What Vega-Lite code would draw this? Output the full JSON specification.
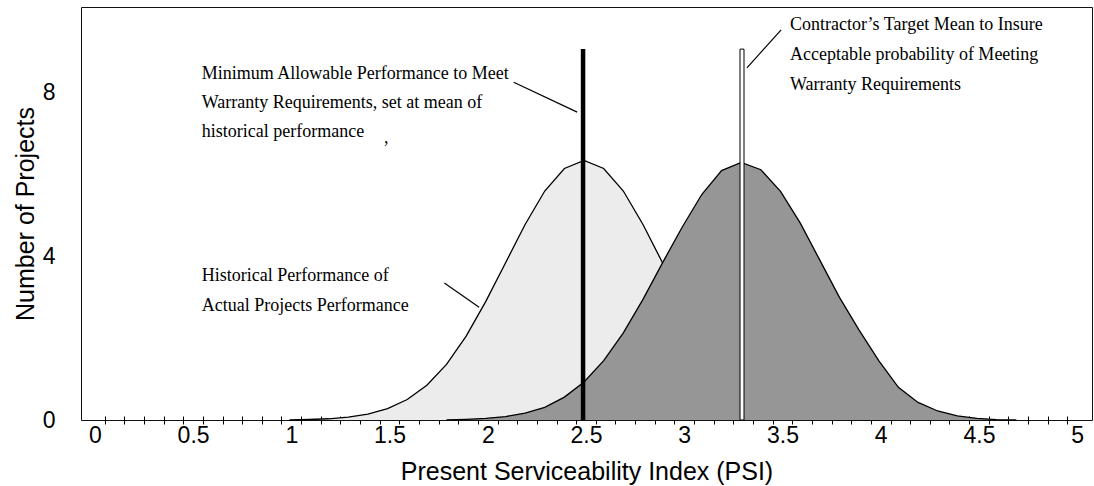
{
  "$schema": "https://vega.github.io/schema/vega-lite/v6.json",
  "autosize": {"type": "none"},
  "padding": {"left": 81, "top": 7, "right": 2, "bottom": 66},
  "width": 1011,
  "height": 413,
  "background": "white",
  "config": {"view": {"stroke": "#111111", "strokeWidth": 1}},
  "datasets": {
    "historical": [
      {"psi": 0.99, "n": 0}, {"psi": 1.09, "n": 0.012}, {"psi": 1.19, "n": 0.03}, {"psi": 1.29, "n": 0.07},
      {"psi": 1.39, "n": 0.145}, {"psi": 1.49, "n": 0.28}, {"psi": 1.59, "n": 0.5}, {"psi": 1.69, "n": 0.85},
      {"psi": 1.79, "n": 1.36}, {"psi": 1.89, "n": 2.05}, {"psi": 1.99, "n": 2.9}, {"psi": 2.09, "n": 3.84},
      {"psi": 2.19, "n": 4.78}, {"psi": 2.29, "n": 5.6}, {"psi": 2.39, "n": 6.15}, {"psi": 2.49, "n": 6.35},
      {"psi": 2.59, "n": 6.15}, {"psi": 2.69, "n": 5.6}, {"psi": 2.79, "n": 4.78}, {"psi": 2.89, "n": 3.84},
      {"psi": 2.99, "n": 2.9}, {"psi": 3.09, "n": 2.05}, {"psi": 3.19, "n": 1.36}, {"psi": 3.29, "n": 0.85},
      {"psi": 3.39, "n": 0.5}, {"psi": 3.49, "n": 0.28}, {"psi": 3.59, "n": 0.145}, {"psi": 3.69, "n": 0.07},
      {"psi": 3.79, "n": 0.03}, {"psi": 3.89, "n": 0.012}, {"psi": 3.99, "n": 0}
    ],
    "target": [
      {"psi": 1.79, "n": 0}, {"psi": 1.89, "n": 0.015}, {"psi": 1.99, "n": 0.04}, {"psi": 2.09, "n": 0.085},
      {"psi": 2.19, "n": 0.17}, {"psi": 2.29, "n": 0.31}, {"psi": 2.39, "n": 0.56}, {"psi": 2.49, "n": 0.93},
      {"psi": 2.59, "n": 1.45}, {"psi": 2.69, "n": 2.13}, {"psi": 2.79, "n": 2.95}, {"psi": 2.89, "n": 3.85},
      {"psi": 2.99, "n": 4.72}, {"psi": 3.09, "n": 5.52}, {"psi": 3.19, "n": 6.1}, {"psi": 3.29, "n": 6.3},
      {"psi": 3.39, "n": 6.12}, {"psi": 3.49, "n": 5.59}, {"psi": 3.59, "n": 4.82}, {"psi": 3.69, "n": 3.91},
      {"psi": 3.79, "n": 3.0}, {"psi": 3.89, "n": 2.2}, {"psi": 3.99, "n": 1.45}, {"psi": 4.09, "n": 0.8},
      {"psi": 4.19, "n": 0.43}, {"psi": 4.29, "n": 0.22}, {"psi": 4.39, "n": 0.1}, {"psi": 4.49, "n": 0.04},
      {"psi": 4.59, "n": 0.01}, {"psi": 4.69, "n": 0}
    ],
    "minbar": [{"psi": 2.485, "n": 0, "n2": 9.07}],
    "targetbar": [{"psi": 3.294, "n": 0, "n2": 9.07}],
    "pointers": [
      {"psi": 2.132, "n": 8.26, "psi2": 2.455, "n2": 7.53},
      {"psi": 1.779, "n": 3.35, "psi2": 1.956, "n2": 2.76},
      {"psi": 3.493, "n": 9.54, "psi2": 3.319, "n2": 8.61}
    ],
    "notes": [
      {"psi": 0.544, "n": 8.34, "label": "Minimum Allowable Performance to Meet"},
      {"psi": 0.544, "n": 7.63, "label": "Warranty Requirements, set at mean of"},
      {"psi": 0.544, "n": 6.92, "label": "historical performance"},
      {"psi": 0.544, "n": 3.4, "label": "Historical Performance of"},
      {"psi": 0.544, "n": 2.67, "label": "Actual Projects Performance"},
      {"psi": 3.538, "n": 9.54, "label": "Contractor’s Target Mean to Insure"},
      {"psi": 3.538, "n": 8.8, "label": "Acceptable probability of Meeting"},
      {"psi": 3.538, "n": 8.07, "label": "Warranty Requirements"},
      {"psi": 1.472, "n": 6.77, "label": ","}
    ]
  },
  "encoding": {
    "x": {
      "field": "psi",
      "type": "quantitative",
      "scale": {"domain": [-0.045, 5.05], "nice": false, "zero": false},
      "axis": {
        "title": "Present Serviceability Index (PSI)",
        "titleFont": "Liberation Sans",
        "titleFontSize": 25,
        "titleFontWeight": "normal",
        "titleColor": "black",
        "titlePadding": 12,
        "values": [0, 0.5, 1, 1.5, 2, 2.5, 3, 3.5, 4, 4.5, 5,
          0.05, 0.15, 0.25, 0.35, 0.45, 0.55, 0.65, 0.75, 0.85, 0.95,
          1.05, 1.15, 1.25, 1.35, 1.45, 1.55, 1.65, 1.75, 1.85, 1.95,
          2.05, 2.15, 2.25, 2.35, 2.45, 2.55, 2.65, 2.75, 2.85, 2.95,
          3.05, 3.15, 3.25, 3.35, 3.45, 3.55, 3.65, 3.75, 3.85, 3.95,
          4.05, 4.15, 4.25, 4.35, 4.45, 4.55, 4.65, 4.75, 4.85, 4.95],
        "format": "~g",
        "labelExpr": "abs(datum.value*2 - round(datum.value*2)) < 0.001 ? datum.label : ''",
        "labelFont": "Liberation Sans",
        "labelFontSize": 23,
        "labelColor": "black",
        "labelPadding": 0,
        "labelOverlap": false,
        "labelFlush": false,
        "domain": false,
        "grid": false,
        "ticks": true,
        "tickSize": 8,
        "tickWidth": 1,
        "tickColor": "black",
        "tickOpacity": {"condition": {"test": "abs(datum.value*2 - round(datum.value*2)) < 0.001", "value": 0}, "value": 1},
        "offset": -4
      }
    },
    "y": {
      "field": "n",
      "type": "quantitative",
      "stack": null,
      "scale": {"domain": [0, 10.1], "nice": false, "zero": true},
      "axis": {
        "title": "Number of Projects",
        "titleFont": "Liberation Sans",
        "titleFontSize": 25,
        "titleFontWeight": "normal",
        "titleColor": "black",
        "titlePadding": 4,
        "values": [0, 4, 8],
        "labelFont": "Liberation Sans",
        "labelFontSize": 23,
        "labelColor": "black",
        "labelPadding": 26,
        "ticks": false,
        "tickSize": 0,
        "domain": false,
        "grid": false
      }
    }
  },
  "layer": [
    {"data": {"name": "historical"}, "mark": {"type": "area", "fill": "#ececec", "opacity": 1}},
    {"data": {"name": "historical"}, "mark": {"type": "line", "stroke": "black", "strokeWidth": 1.3}},
    {"data": {"name": "target"}, "mark": {"type": "area", "fill": "#969696", "opacity": 1}},
    {"data": {"name": "target"}, "mark": {"type": "line", "stroke": "black", "strokeWidth": 1.3}},
    {
      "data": {"name": "minbar"},
      "mark": {"type": "bar", "width": 4.5, "fill": "black", "stroke": null},
      "encoding": {"y": {"field": "n2", "type": "quantitative"}, "y2": {"field": "n"}}
    },
    {
      "data": {"name": "targetbar"},
      "mark": {"type": "bar", "width": 4, "fill": "white", "stroke": "black", "strokeWidth": 1},
      "encoding": {"y": {"field": "n2", "type": "quantitative"}, "y2": {"field": "n"}}
    },
    {
      "data": {"name": "pointers"},
      "mark": {"type": "rule", "stroke": "black", "strokeWidth": 1.2},
      "encoding": {"x2": {"field": "psi2"}, "y2": {"field": "n2"}}
    },
    {
      "data": {"name": "notes"},
      "mark": {"type": "text", "align": "left", "baseline": "alphabetic", "font": "Liberation Serif", "fontSize": 18, "color": "black"},
      "encoding": {"text": {"field": "label"}}
    }
  ]
}
